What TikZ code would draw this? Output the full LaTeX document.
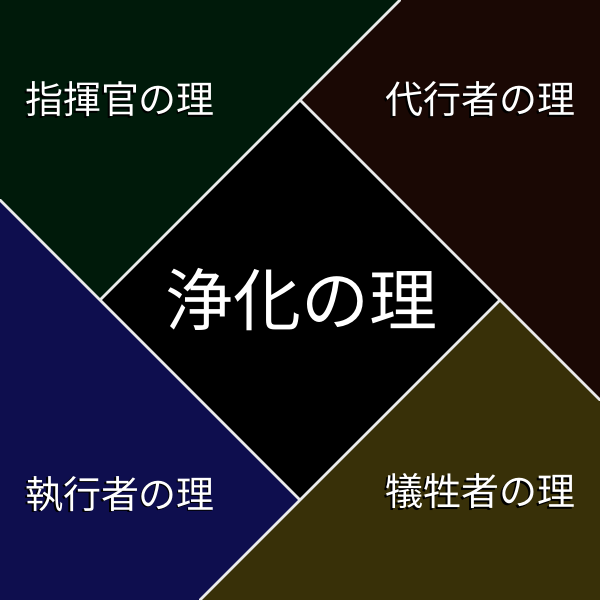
\documentclass[tikz,border=0pt]{standalone}
\usepackage{fontspec}
\newfontfamily\cjk{Noto Sans CJK JP}
\definecolor{cgreen}{RGB}{0,26,10}
\definecolor{cbrown}{RGB}{26,8,4}
\definecolor{cblue}{RGB}{14,14,78}
\definecolor{colive}{RGB}{56,48,8}
\definecolor{cline}{RGB}{235,235,235}
\tikzset{
  edge/.style={draw=cline, line width=2.8pt, line cap=round},
  small/.style={font=\cjk\fontsize{38}{40}\selectfont, inner sep=0pt, text=white},
  big/.style={font=\cjk\fontsize{68}{70}\selectfont, inner sep=0pt, text=white},
}
\newcommand{\shadowtext}[1]{\rlap{\kern-1.5pt\raisebox{-1.5pt}{\textcolor{black}{#1}}}#1}
\begin{document}
\begin{tikzpicture}[x=1pt,y=-1pt]
\useasboundingbox (0,0) rectangle (600,600);
\fill[cgreen] (0,0) -- (400,0) -- (100,300) -- (0,200) -- cycle;
\fill[cbrown] (400,0) -- (600,0) -- (600,400) -- (300,100) -- cycle;
\fill[colive] (600,400) -- (600,600) -- (200,600) -- (500,300) -- cycle;
\fill[cblue] (200,600) -- (0,600) -- (0,200) -- (300,500) -- cycle;
\fill[black] (300,100) -- (500,300) -- (300,500) -- (100,300) -- cycle;
\coordinate (T) at (300,100);
\coordinate (R) at (500,300);
\coordinate (B) at (300,500);
\coordinate (L) at (100,300);
\coordinate (e1) at (400,0);
\coordinate (e2) at (600,400);
\coordinate (e3) at (200,600);
\coordinate (e4) at (0,200);
\draw[edge] (L) -- (e1);
\draw[edge] (T) -- (e2);
\draw[edge] (R) -- (e3);
\draw[edge] (B) -- (e4);
\node[small] (a) at (120,100) {\shadowtext{指揮官の理}};
\node[small] (b) at (480,100) {\shadowtext{代行者の理}};
\node[small] (c) at (120,495) {\shadowtext{執行者の理}};
\node[small] (d) at (480,492) {\shadowtext{犠牲者の理}};
\node[big] (m) at (301,300) {\shadowtext{浄化の理}};
\end{tikzpicture}
\end{document}
